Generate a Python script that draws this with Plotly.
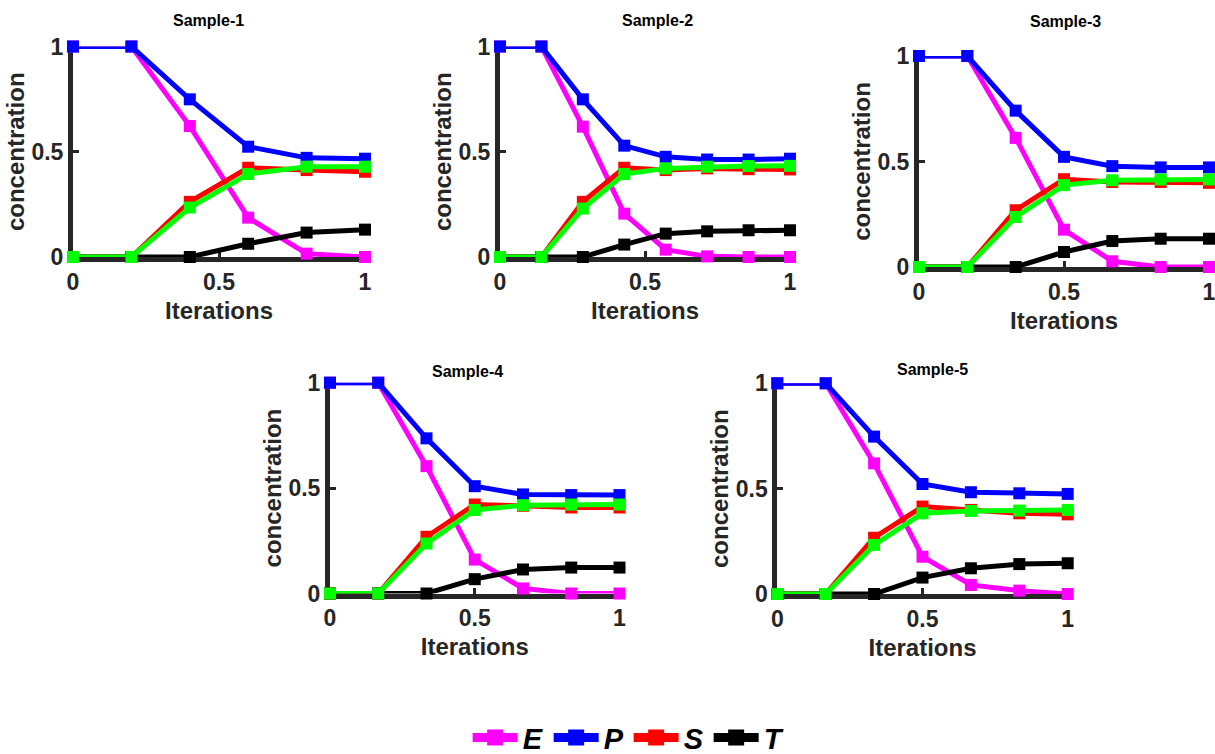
import plotly.graph_objects as go

# Iteration grids (normalised to [0, 1]) for each sample
x1 = [0, 0.2, 0.4, 0.6, 0.8, 1.0]
x2 = [0, 1/7, 2/7, 3/7, 4/7, 5/7, 6/7, 1.0]
x3 = [0, 1/6, 2/6, 3/6, 4/6, 5/6, 1.0]
x4 = [0, 1/6, 2/6, 3/6, 4/6, 5/6, 1.0]
x5 = [0, 1/6, 2/6, 3/6, 4/6, 5/6, 1.0]

# Sample-1
E1 = [1, 1, 0.622, 0.187, 0.016, 0.0]
P1 = [1, 1, 0.749, 0.524, 0.471, 0.467]
S1 = [0, 0, 0.262, 0.424, 0.413, 0.405]
T1 = [0, 0, 0.0, 0.063, 0.116, 0.130]
G1 = [0, 0, 0.235, 0.394, 0.429, 0.429]

# Sample-2
E2 = [1, 1, 0.619, 0.206, 0.035, 0.003, 0.0, 0.0]
P2 = [1, 1, 0.749, 0.529, 0.476, 0.463, 0.463, 0.467]
S2 = [0, 0, 0.262, 0.424, 0.413, 0.421, 0.417, 0.416]
T2 = [0, 0, 0.0, 0.059, 0.111, 0.122, 0.127, 0.127]
G2 = [0, 0, 0.230, 0.394, 0.421, 0.429, 0.432, 0.433]

# Sample-3
E3 = [1, 1, 0.612, 0.177, 0.027, 0.0, 0.0]
P3 = [1, 1, 0.741, 0.522, 0.478, 0.472, 0.472]
S3 = [0, 0, 0.269, 0.416, 0.403, 0.403, 0.399]
T3 = [0, 0, 0.0, 0.071, 0.123, 0.134, 0.134]
G3 = [0, 0, 0.237, 0.388, 0.411, 0.415, 0.415]

# Sample-4
E4 = [1, 1, 0.604, 0.161, 0.024, 0.0, 0.0]
P4 = [1, 1, 0.736, 0.509, 0.470, 0.467, 0.467]
S4 = [0, 0, 0.269, 0.422, 0.416, 0.408, 0.408]
T4 = [0, 0, 0.0, 0.068, 0.114, 0.123, 0.123]
G4 = [0, 0, 0.237, 0.396, 0.419, 0.422, 0.422]

# Sample-5
E5 = [1, 1, 0.620, 0.177, 0.043, 0.016, 0.0]
P5 = [1, 1, 0.747, 0.522, 0.483, 0.478, 0.475]
S5 = [0, 0, 0.267, 0.415, 0.399, 0.383, 0.378]
T5 = [0, 0, 0.0, 0.078, 0.122, 0.142, 0.146]
G5 = [0, 0, 0.233, 0.383, 0.394, 0.396, 0.399]

sample_names = ["Sample-1", "Sample-2", "Sample-3", "Sample-4", "Sample-5"]
tick_vals = [0, 0.5, 1]
tick_text = ["0", "0.5", "1"]

samples = [
    (x1, E1, P1, S1, T1, G1),
    (x2, E2, P2, S2, T2, G2),
    (x3, E3, P3, S3, T3, G3),
    (x4, E4, P4, S4, T4, G4),
    (x5, E5, P5, S5, T5, G5),
]

W, H = 1215, 754
# plot-area boxes in pixels: (left, right, top, bottom)
boxes = [
    (73, 365, 46.5, 257),
    (500, 790, 46.5, 257),
    (919, 1209, 56, 267),
    (330, 619.5, 382.7, 593.5),
    (777.3, 1067.7, 383.3, 594),
]
title_pos = [(208, 20), (657, 20), (1065, 22), (467, 371), (932, 369)]

AX = "#262626"
FONT = "Liberation Sans"

series = [
    ("E", "#FF00FF"),
    ("P", "#0000FF"),
    ("S", "#FF0000"),
    ("T", "#000000"),
    ("S model", "#00FF00"),
]

fig = go.Figure()

for i, (xs, *ys) in enumerate(samples):
    k = "" if i == 0 else str(i + 1)
    for (name, color), yv in zip(series, ys):
        fig.add_trace(go.Scatter(
            x=xs, y=yv, mode="lines+markers", name=name,
            line=dict(color=color, width=5),
            marker=dict(symbol="square", size=12, color=color),
            showlegend=False,
            cliponaxis=False,
            xaxis="x" + k, yaxis="y" + k,
        ))
    l, r, t, b = boxes[i]
    common = dict(
        range=[0, 1], tickvals=tick_vals, ticktext=tick_text,
        showline=True, linewidth=5, linecolor=AX,
        ticks="inside", ticklen=6, tickwidth=3, tickcolor=AX,
        showgrid=False, zeroline=False, layer="below traces",
        tickfont=dict(family=FONT, size=23, color=AX, weight="bold"),
        fixedrange=True, automargin=False, ticklabeloverflow="allow",
    )
    fig.update_layout(**{
        "xaxis" + k: dict(
            domain=[l / W, r / W], anchor="y" + k,
            title=dict(text="Iterations", standoff=10,
                       font=dict(family=FONT, size=24, color=AX, weight="bold")),
            **common),
        "yaxis" + k: dict(
            domain=[1 - b / H, 1 - t / H], anchor="x" + k,
            title=dict(text="concentration", standoff=2,
                       font=dict(family=FONT, size=24, color=AX, weight="bold")),
            **common),
    })
    tx, ty = title_pos[i]
    fig.add_annotation(
        x=tx / W, y=1 - ty / H, xref="paper", yref="paper",
        text=sample_names[i], showarrow=False,
        font=dict(family=FONT, size=16, color="#000000", weight="bold"),
        xanchor="center", yanchor="middle",
    )

# Legend entries (heavier key glyphs, no data drawn)
for name, color in series[:4]:
    fig.add_trace(go.Scatter(
        x=[None], y=[None], mode="lines+markers", name=name,
        line=dict(color=color, width=9),
        marker=dict(symbol="square", size=20, color=color),
        showlegend=True, xaxis="x", yaxis="y",
    ))

fig.update_layout(
    width=W, height=H, autosize=False,
    margin=dict(l=0, r=0, t=0, b=0, autoexpand=False),
    paper_bgcolor="white", plot_bgcolor="white",
    legend=dict(
        orientation="h", x=0.517, y=-0.012,
        xanchor="center", yanchor="bottom",
        font=dict(family=FONT, size=29, color="#000000", weight="bold", style="italic"),
        itemsizing="trace", itemwidth=45, traceorder="normal",
        bgcolor="rgba(0,0,0,0)",
    ),
)

fig.write_html("out.html")
